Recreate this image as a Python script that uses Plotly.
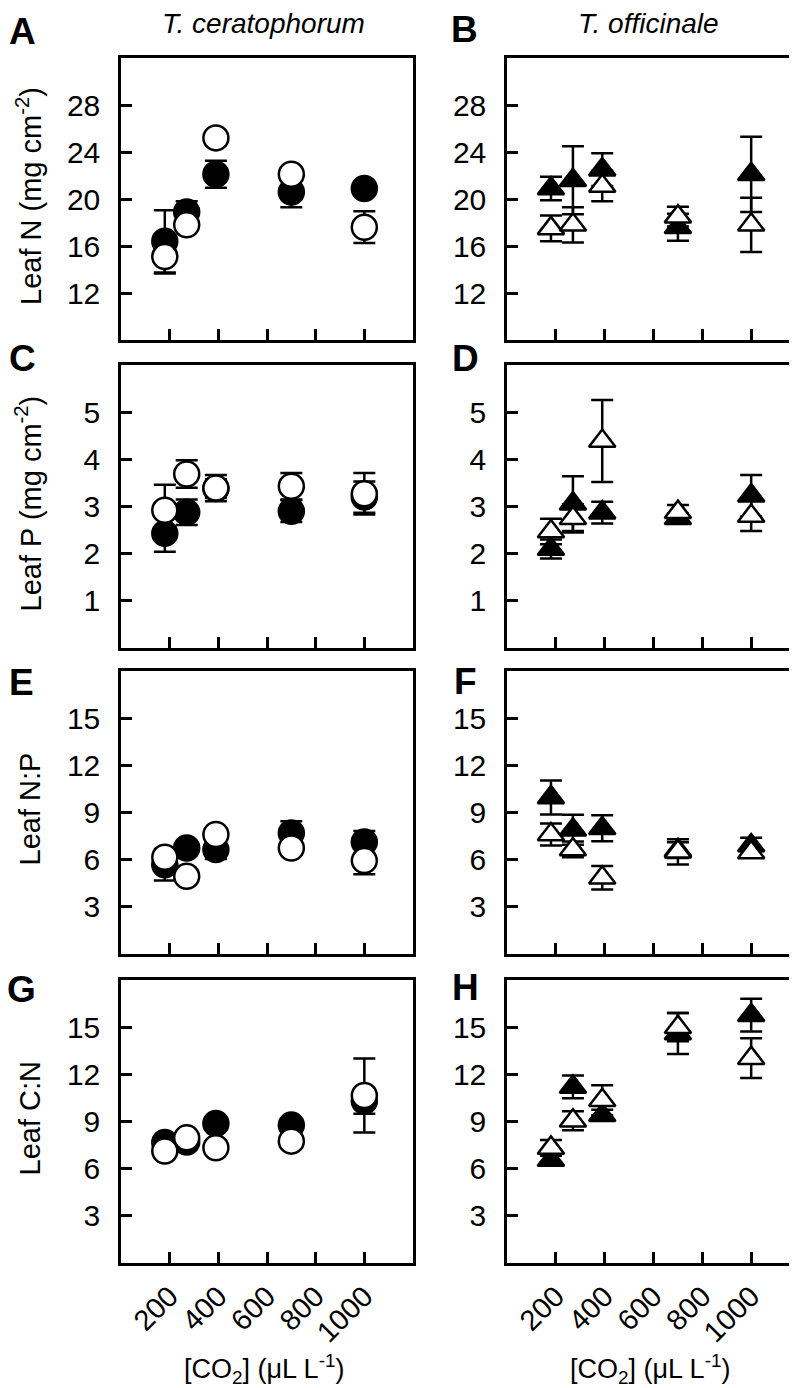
import plotly.graph_objects as go

# ---------------- data ----------------
co2 = [180, 270, 390, 700, 1000]
x_ticks = [200, 400, 600, 800, 1000]

# T. ceratophorum (circles)
leafN_cer_filled = [16.4, 18.9, 22.1, 20.6, 20.9]
leafN_cer_filled_se = [2.65, 0.9, 1.15, 1.3, 0.5]
leafN_cer_open = [15.1, 17.8, 25.2, 22.1, 17.6]
leafN_cer_open_se = [1.45, 0.5, 0.4, 0.3, 1.35]

leafP_cer_filled = [2.43, 2.88, 3.38, 2.9, 3.2]
leafP_cer_filled_se = [0.39, 0.27, 0.2, 0.23, 0.33]
leafP_cer_open = [2.92, 3.69, 3.39, 3.43, 3.27]
leafP_cer_open_se = [0.54, 0.29, 0.28, 0.28, 0.44]

NP_cer_filled = [5.68, 6.74, 6.64, 7.7, 7.13]
NP_cer_filled_se = [1.0, 0.3, 0.6, 0.75, 0.7]
NP_cer_open = [6.15, 4.94, 7.6, 6.74, 5.94]
NP_cer_open_se = [0.3, 0.3, 0.3, 0.3, 0.86]

CN_cer_filled = [7.67, 7.7, 8.87, 8.77, 10.3]
CN_cer_filled_se = [0.3, 0.3, 0.35, 0.3, 0.8]
CN_cer_open = [7.12, 7.96, 7.33, 7.75, 10.65]
CN_cer_open_se = [0.3, 0.3, 0.3, 0.3, 2.35]

# T. officinale (triangles)
leafN_off_filled = [20.9, 21.6, 22.5, 17.6, 22.1]
leafN_off_filled_se = [1.0, 2.9, 1.4, 1.15, 3.2]
leafN_off_open = [17.5, 17.8, 21.1, 18.5, 17.8]
leafN_off_open_se = [1.1, 1.5, 1.3, 0.85, 2.3]

leafP_off_filled = [2.1, 3.06, 2.87, 2.75, 3.23]
leafP_off_filled_se = [0.2, 0.58, 0.23, 0.1, 0.44]
leafP_off_open = [2.47, 2.75, 4.39, 2.88, 2.8]
leafP_off_open_se = [0.27, 0.3, 0.87, 0.15, 0.32]

NP_off_filled = [9.96, 7.9, 8.0, 6.6, 6.9]
NP_off_filled_se = [1.08, 0.95, 0.83, 0.5, 0.5]
NP_off_open = [7.6, 6.65, 4.85, 6.5, 6.45]
NP_off_open_se = [0.7, 0.5, 0.75, 0.8, 0.3]

CN_off_filled = [6.55, 11.2, 9.4, 14.6, 15.76]
CN_off_filled_se = [0.3, 0.72, 0.35, 1.3, 1.04]
CN_off_open = [7.32, 9.05, 10.35, 15.0, 13.03]
CN_off_open_se = [0.5, 0.6, 0.95, 0.9, 1.26]

row_titles = ["Leaf N (mg cm<sup>-2</sup>)", "Leaf P (mg cm<sup>-2</sup>)", "Leaf N:P", "Leaf C:N"]
row_ranges = [[8, 32], [0, 6], [0, 18], [0, 18]]
row_ticks = [[12, 16, 20, 24, 28], [1, 2, 3, 4, 5], [3, 6, 9, 12, 15], [3, 6, 9, 12, 15]]
col_titles = ["T. ceratophorum", "T. officinale"]
letters = ["A", "B", "C", "D", "E", "F", "G", "H"]

panel_data = [
    (leafN_cer_filled, leafN_cer_filled_se, leafN_cer_open, leafN_cer_open_se),
    (leafN_off_filled, leafN_off_filled_se, leafN_off_open, leafN_off_open_se),
    (leafP_cer_filled, leafP_cer_filled_se, leafP_cer_open, leafP_cer_open_se),
    (leafP_off_filled, leafP_off_filled_se, leafP_off_open, leafP_off_open_se),
    (NP_cer_filled, NP_cer_filled_se, NP_cer_open, NP_cer_open_se),
    (NP_off_filled, NP_off_filled_se, NP_off_open, NP_off_open_se),
    (CN_cer_filled, CN_cer_filled_se, CN_cer_open, CN_cer_open_se),
    (CN_off_filled, CN_off_filled_se, CN_off_open, CN_off_open_se),
]

# ---------------- layout geometry (pixels) ----------------
W, H = 797, 1388
col_px = [(113, 405), (499, 792)]
row_px = [(50, 332), (357, 640), (663, 946), (972, 1255)]
letter_px = [(15, 23), (456, 22), (14, 350), (457, 350), (13, 675), (457, 673), (13, 981), (457, 980)]
FONT = "Liberation Sans, Arial, Helvetica, sans-serif"
LW = 2.5

fig = go.Figure()
layout = dict(
    width=W, height=H, margin=dict(l=0, r=0, t=0, b=0),
    paper_bgcolor="white", plot_bgcolor="white", showlegend=False,
    font=dict(family=FONT, color="black", size=28),
)
annotations = []

for i, (f, fe, o, oe) in enumerate(panel_data):
    r, c = divmod(i, 2)
    n = i + 1
    xa = "x" if n == 1 else f"x{n}"
    ya = "y" if n == 1 else f"y{n}"
    circle = (c == 0)
    sym = "circle" if circle else "triangle-up"
    size = 25 if circle else 23
    eb = dict(type="data", visible=True, color="black", thickness=LW, width=11)
    fig.add_trace(go.Scatter(
        x=co2, y=f, mode="markers", xaxis=xa, yaxis=ya,
        marker=dict(symbol=sym, size=size, color="black", line=dict(color="black", width=LW)),
        error_y=dict(array=fe, **eb)))
    fig.add_trace(go.Scatter(
        x=co2, y=o, mode="markers", xaxis=xa, yaxis=ya,
        marker=dict(symbol=sym, size=size, color="white", line=dict(color="black", width=LW)),
        error_y=dict(array=oe, **eb)))

    x0, x1 = col_px[c]
    y0, y1 = row_px[r]
    common = dict(showline=True, mirror=True, linecolor="black", linewidth=LW,
                  ticks="inside", ticklen=11, tickwidth=LW, tickcolor="black",
                  showgrid=False, zeroline=False)
    layout["xaxis" if n == 1 else f"xaxis{n}"] = dict(
        domain=[x0 / W, x1 / W], anchor=ya, range=[0, 1200],
        tickmode="array", tickvals=x_ticks, ticktext=[str(v) for v in x_ticks],
        showticklabels=(r == 3), tickangle=-45, ticklabelstandoff=2,
        tickfont=dict(family=FONT, size=29, color="black"), **common)
    layout["yaxis" if n == 1 else f"yaxis{n}"] = dict(
        domain=[1 - y1 / H, 1 - y0 / H], anchor=xa, range=row_ranges[r],
        tickmode="array", tickvals=row_ticks[r], ticklabelstandoff=12,
        tickfont=dict(family=FONT, size=30, color="black"), **common)

    lx, ly = letter_px[i]
    annotations.append(dict(text=f"<b>{letters[i]}</b>", x=lx / W, y=1 - ly / H, xref="paper", yref="paper",
                            xanchor="center", yanchor="middle", showarrow=False,
                            font=dict(family=FONT, size=37, color="black")))

for r in range(4):
    y0, y1 = row_px[r]
    annotations.append(dict(text=row_titles[r], x=21 / W, y=1 - ((y0 + y1) / 2 - 3) / H,
                            xref="paper", yref="paper", textangle=-90, xanchor="center", yanchor="middle",
                            showarrow=False, font=dict(family=FONT, size=29, color="black")))

for c, (tx, ttl) in enumerate(zip([256, 640], col_titles)):
    annotations.append(dict(text=f"<i>{ttl}</i>", x=tx / W, y=1 - 16 / H, xref="paper", yref="paper",
                            xanchor="center", yanchor="middle", showarrow=False,
                            font=dict(family=FONT, size=28, color="black")))
    annotations.append(dict(text="[CO<sub>2</sub>] (\u03bcL L<sup>-1</sup>)", x=[256, 642][c] / W,
                            y=1 - 1361 / H, xref="paper", yref="paper",
                            xanchor="center", yanchor="middle", showarrow=False,
                            font=dict(family=FONT, size=27, color="black")))

layout["annotations"] = annotations
fig.update_layout(**layout)
fig.write_html("out.html")
